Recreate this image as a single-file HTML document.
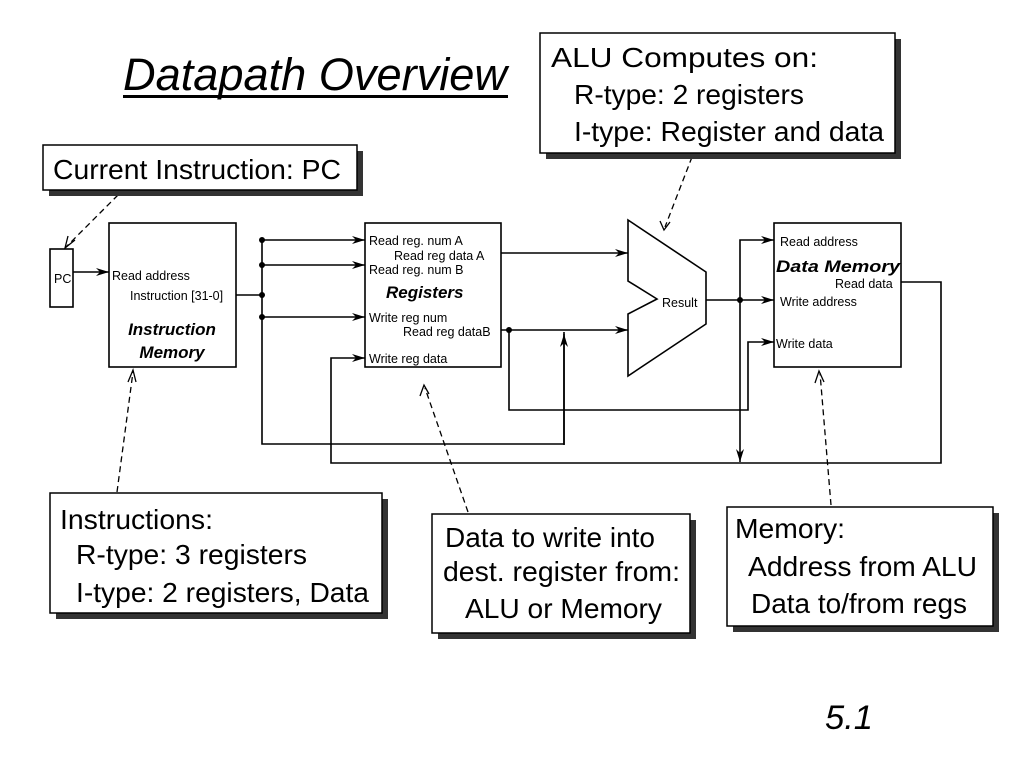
<!DOCTYPE html>
<html><head><meta charset="utf-8"><style>
html,body{margin:0;padding:0;background:#fff}
svg{display:block}
text{font-family:"Liberation Sans",sans-serif;fill:#000}
.s{font-size:12.5px}
.c{font-size:28px}
</style></head><body>
<svg width="1024" height="768" viewBox="0 0 1024 768" xmlns="http://www.w3.org/2000/svg">
<defs>
<marker id="a" markerWidth="14" markerHeight="10" refX="13" refY="5" orient="auto" markerUnits="userSpaceOnUse">
<path d="M0,1 L13,5 L0,9 L4,5 Z" fill="#000"/></marker>
</defs>

<text x="123" y="90" font-size="45" font-style="italic" textLength="384" lengthAdjust="spacingAndGlyphs">Datapath Overview</text>
<rect x="123" y="95" width="385" height="3" fill="#000"/>
<text x="825" y="729" font-size="34" font-style="italic" textLength="48" lengthAdjust="spacingAndGlyphs">5.1</text>

<g stroke="#000" stroke-width="1.6" fill="none">
<rect x="50" y="249" width="23" height="58" fill="#fff"/>
<rect x="109" y="223" width="127" height="144" fill="#fff"/>
<rect x="365" y="223" width="136" height="144" fill="#fff"/>
<rect x="774" y="223" width="127" height="144" fill="#fff"/>
<path d="M628,220 L706,272 L706,324 L628,376 L628,314 L657,299 L628,281 Z" fill="#fff"/>

<path d="M73,272 L109,272" marker-end="url(#a)"/>
<path d="M236,295 L262,295"/>
<path d="M262,240 L262,444 L564,444 L564,332" />
<path d="M262,240 L365,240" marker-end="url(#a)"/>
<path d="M262,265 L365,265" marker-end="url(#a)"/>
<path d="M262,317 L365,317" marker-end="url(#a)"/>
<path d="M501,253 L628,253" marker-end="url(#a)"/>
<path d="M501,330 L628,330" marker-end="url(#a)"/>
<path d="M509,330 L509,410 L748,410 L748,342 L774,342" marker-end="url(#a)"/>
<path d="M706,300 L774,300" marker-end="url(#a)"/>
<path d="M740,300 L740,240 L774,240" marker-end="url(#a)"/>
<path d="M740,300 L740,462" marker-end="url(#a)"/>
<path d="M901,282 L941,282 L941,463 L331,463 L331,358 L365,358" marker-end="url(#a)"/>
</g>
<path d="M564,445 L564,334" stroke="#000" stroke-width="1.6" marker-end="url(#a)"/>
<g fill="#000">
<circle cx="262" cy="240" r="3"/><circle cx="262" cy="265" r="3"/><circle cx="262" cy="295" r="3"/><circle cx="262" cy="317" r="3"/>
<circle cx="509" cy="330" r="3"/><circle cx="740" cy="300" r="3"/>
</g>

<text class="s" x="54" y="283">PC</text>
<text class="s" x="112" y="280">Read address</text>
<text class="s" x="130" y="300">Instruction [31-0]</text>
<text x="172" y="335" font-size="17" font-weight="bold" font-style="italic" text-anchor="middle">Instruction</text>
<text x="172" y="358" font-size="17" font-weight="bold" font-style="italic" text-anchor="middle">Memory</text>
<text class="s" x="369" y="245">Read reg. num A</text>
<text class="s" x="394" y="260">Read reg data A</text>
<text class="s" x="369" y="274">Read reg. num B</text>
<text x="386" y="298" font-size="17" font-weight="bold" font-style="italic">Registers</text>
<text class="s" x="369" y="322">Write reg num</text>
<text class="s" x="403" y="336">Read reg dataB</text>
<text class="s" x="369" y="363">Write reg data</text>
<text class="s" x="662" y="307">Result</text>
<text class="s" x="780" y="246">Read address</text>
<text x="776" y="272" font-size="17" font-weight="bold" font-style="italic" textLength="124" lengthAdjust="spacingAndGlyphs">Data Memory</text>
<text class="s" x="835" y="288">Read data</text>
<text class="s" x="780" y="306">Write address</text>
<text class="s" x="776" y="348">Write data</text>

<g stroke="#000" stroke-width="1.3" stroke-dasharray="6,4" fill="none">
<path d="M118,195 L66,247"/>
<path d="M117,492 L133,372"/>
<path d="M468,512 L425,388"/>
<path d="M692,157 L665,227"/>
<path d="M831,505 L820,373"/>
</g>
<g stroke="#000" stroke-width="1.3" fill="none">
<path d="M75,240 L65,248 L68,236"/>
<path d="M128,382 L133,370 L136,382"/>
<path d="M420,396 L424,385 L429,394"/>
<path d="M660,221 L664,230 L670,222"/>
<path d="M815,383 L819,371 L824,382"/>
</g>

<g fill="#333">
<rect x="49" y="151" width="314" height="45"/>
<rect x="546" y="39" width="355" height="120"/>
<rect x="56" y="499" width="332" height="120"/>
<rect x="438" y="520" width="258" height="119"/>
<rect x="733" y="513" width="266" height="119"/>
</g>
<g fill="#fff" stroke="#000" stroke-width="1.5">
<rect x="43" y="145" width="314" height="45"/>
<rect x="540" y="33" width="355" height="120"/>
<rect x="50" y="493" width="332" height="120"/>
<rect x="432" y="514" width="258" height="119"/>
<rect x="727" y="507" width="266" height="119"/>
</g>
<g>
<text class="c" x="53" y="179" textLength="288" lengthAdjust="spacingAndGlyphs">Current Instruction: PC</text>
<text class="c" x="551" y="67" textLength="267" lengthAdjust="spacingAndGlyphs">ALU Computes on:</text>
<text class="c" x="574" y="104" textLength="230" lengthAdjust="spacingAndGlyphs">R-type: 2 registers</text>
<text class="c" x="574" y="141" textLength="310" lengthAdjust="spacingAndGlyphs">I-type: Register and data</text>
<text class="c" x="60" y="529" textLength="153" lengthAdjust="spacingAndGlyphs">Instructions:</text>
<text class="c" x="76" y="564" textLength="231" lengthAdjust="spacingAndGlyphs">R-type: 3 registers</text>
<text class="c" x="76" y="602" textLength="293" lengthAdjust="spacingAndGlyphs">I-type: 2 registers, Data</text>
<text class="c" x="445" y="547" textLength="210" lengthAdjust="spacingAndGlyphs">Data to write into</text>
<text class="c" x="443" y="581" textLength="237" lengthAdjust="spacingAndGlyphs">dest. register from:</text>
<text class="c" x="465" y="618" textLength="197" lengthAdjust="spacingAndGlyphs">ALU or Memory</text>
<text class="c" x="735" y="538" textLength="110" lengthAdjust="spacingAndGlyphs">Memory:</text>
<text class="c" x="748" y="576" textLength="229" lengthAdjust="spacingAndGlyphs">Address from ALU</text>
<text class="c" x="751" y="613" textLength="216" lengthAdjust="spacingAndGlyphs">Data to/from regs</text>
</g>
</svg>
</body></html>
